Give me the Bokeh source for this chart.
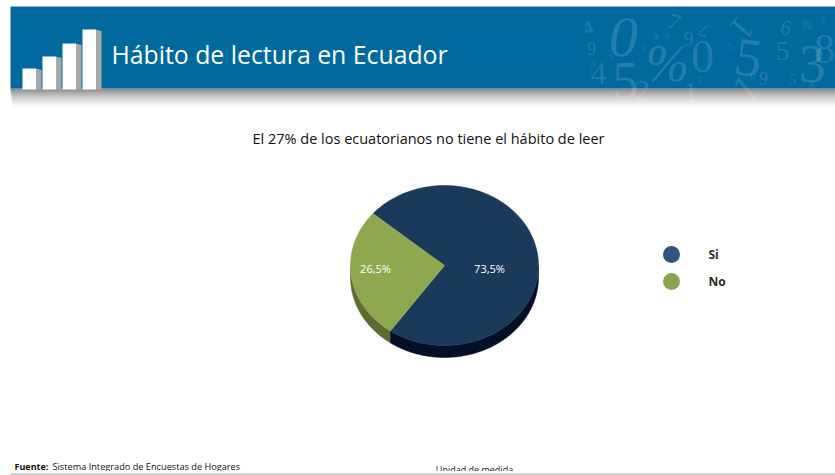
import math
from bokeh.embed import file_html
from bokeh.resources import INLINE
from bokeh.plotting import figure
from bokeh.core.properties import value

TITLE = "Hábito de lectura en Ecuador"
SUBTITLE = "El 27% de los ecuatorianos no tiene el hábito de leer"
categories = ["Si", "No"]
shares = [73.5, 26.5]
share_labels = ["73,5%", "26,5%"]
top_colors = ["#1a3a5b", "#8fa84f"]
side_colors = ["#040f26", "#5f6c30"]
legend_colors = ["#2f5585", "#8ca24f"]
icon_heights = [21, 33, 46, 60]
# decorative numerals: glyph, x, y, size, style, angle in degrees
decor = [
    ("0", 623, 36, 58, "italic", 0), ("4", 587, 27, 20, "normal", 25), ("9", 591, 48, 18, "normal", 0),
    ("2", 592, 63, 10, "normal", 0), ("3", 610, 57, 9, "normal", 0), ("4", 598, 73, 32, "normal", 0),
    ("5", 625, 80, 52, "normal", 0), ("2", 642, 90, 30, "normal", 0), ("%", 667, 63, 52, "italic", 0),
    ("4", 655, 36, 13, "normal", 20), ("6", 667, 35, 11, "normal", 0), ("9", 688, 38, 20, "normal", 0),
    ("0", 702, 56, 46, "normal", 0), ("5", 730, 46, 10, "normal", 0), ("5", 748, 57, 54, "normal", -8),
    ("5", 782, 50, 28, "normal", 0), ("3", 812, 63, 54, "normal", 0), ("8", 824, 48, 42, "normal", 0),
    ("6", 785, 27, 20, "italic", 0), ("%", 807, 25, 14, "italic", 0), ("6", 823, 20, 10, "normal", 0),
    ("9", 763, 78, 18, "normal", 0), ("0", 752, 75, 9, "italic", 0), ("5", 792, 78, 14, "normal", 0),
    ("6", 812, 85, 10, "normal", 0), ("1", 690, 92, 30, "normal", 0), ("5", 699, 80, 10, "normal", 0),
    ("5", 643, 48, 9, "normal", 0), ("7", 673, 22, 24, "normal", -20), ("7", 703, 30, 20, "normal", 160),
    ("1", 742, 28, 36, "normal", -130), ("1", 745, 88, 40, "normal", 40),
]

p = figure(width=835, height=475, x_range=(1, 836), y_range=(476, 1),
           output_backend="svg", toolbar_location=None, min_border=0,
           outline_line_color=None, background_fill_color="white",
           styles={"position": "absolute", "left": "0px", "top": "0px"})
p.axis.visible = False
p.grid.visible = False

# Banner shadow, then banner
for i in range(22):
    shade = 0.66 * (1 - i / 22) ** 2
    p.quad(left=11 + i * 0.12, right=836, top=89 + i, bottom=90 + i,
           fill_color="#303030", fill_alpha=shade, line_color=None)
p.quad(left=11, right=836, top=7, bottom=89, fill_color="#00699e", line_color=None)

for ch, x, y, size, style, angle in decor:
    p.text([x + 1], [y + 1], text=[ch], text_font=value("Liberation Serif"), text_font_size=f"{size}px",
           text_font_style=style, text_align="center", text_baseline="middle", angle=math.radians(angle),
           text_color="#ffffff", text_alpha=0.14)

# Icon
for i, h in enumerate(icon_heights):
    x0 = 23 + i * 20
    base = 90
    p.patch([x0 + 13, x0 + 19, x0 + 19, x0 + 13], [base - h, base - h + 1.5, base, base],
            fill_color="#a6a8ab", line_color=None)
    p.quad(left=x0, right=x0 + 13.5, top=base - h, bottom=base, fill_color="white", line_color=None)

p.text([112], [54], text=[TITLE], text_font=value("Open Sans"), text_font_size="24.8px",
       text_align="left", text_baseline="middle", text_color="white")
p.text([429], [139], text=[SUBTITLE], text_font=value("Open Sans"), text_font_size="14.5px",
       text_align="center", text_baseline="middle", text_color="#111111")

# Pie
cx, cy, rx, ry, depth = 445, 266, 94, 80, 12
start = 139.5  # start of the "No" wedge, counter-clockwise on the screen
total = sum(shares)
spans = [shares[1] / total * 360, shares[0] / total * 360]
no_a, si_a = start, start + spans[0]
ang = {"No": (no_a, no_a + spans[0]), "Si": (si_a, si_a + spans[1])}


def arc(a0, a1, n=160):
    return [a0 + (a1 - a0) * k / n for k in range(n + 1)]


def ell(a, dy=0):
    r = math.radians(a)
    return cx + rx * math.cos(r), cy - ry * math.sin(r) + dy


def side(a0, a1, color):
    lo, hi = max(a0, 180), min(a1, 360)
    if hi <= lo:
        return
    top = [ell(a) for a in arc(lo, hi)]
    bot = [ell(a, depth) for a in arc(hi, lo)]
    pts = top + bot
    p.patch([q[0] for q in pts], [q[1] for q in pts], fill_color=color, line_color=color, line_width=0.5)


side(*ang["No"], side_colors[1])
side(*ang["Si"], side_colors[0])
for name, color in (("Si", top_colors[0]), ("No", top_colors[1])):
    pts = [(cx, cy)] + [ell(a) for a in arc(*ang[name])]
    p.patch([q[0] for q in pts], [q[1] for q in pts], fill_color=color, line_color=color, line_width=0.5)

for x, y, lab in [(490, 269, share_labels[0]), (376, 269, share_labels[1])]:
    p.text([x], [y], text=[lab], text_font=value("Open Sans"), text_font_size="11px",
           text_align="center", text_baseline="middle", text_color="white")

# Legend
for y, name, color in zip([255, 282], categories, legend_colors):
    p.ellipse([672], [y], width=17, height=17, fill_color=color, line_color=None)
    p.text([709], [y], text=[name], text_font=value("Open Sans"), text_font_size="12px",
           text_font_style="bold", text_align="left",
           text_baseline="middle", text_color="#2a2a2a")

# Footer
p.text([15], [467], text=["Fuente:"], text_font=value("Open Sans"), text_font_size="9px",
       text_font_style="bold", text_align="left", text_baseline="middle", text_color="#111111")
p.text([53], [467], text=["Sistema Integrado de Encuestas de Hogares"], text_font=value("Open Sans"),
       text_font_size="9.2px", text_align="left", text_baseline="middle", text_color="#111111")
p.text([475], [470], text=["Unidad de medida"], text_font=value("Open Sans"), text_font_size="9px",
       text_align="center", text_baseline="middle", text_color="#222222")
p.quad(left=1, right=836, top=471.5, bottom=476, fill_color="white", line_color=None)
p.quad(left=11, right=836, top=474, bottom=475, fill_color="#a8a8a8", line_color=None)

open("out.html", "w").write(file_html(p, INLINE))
